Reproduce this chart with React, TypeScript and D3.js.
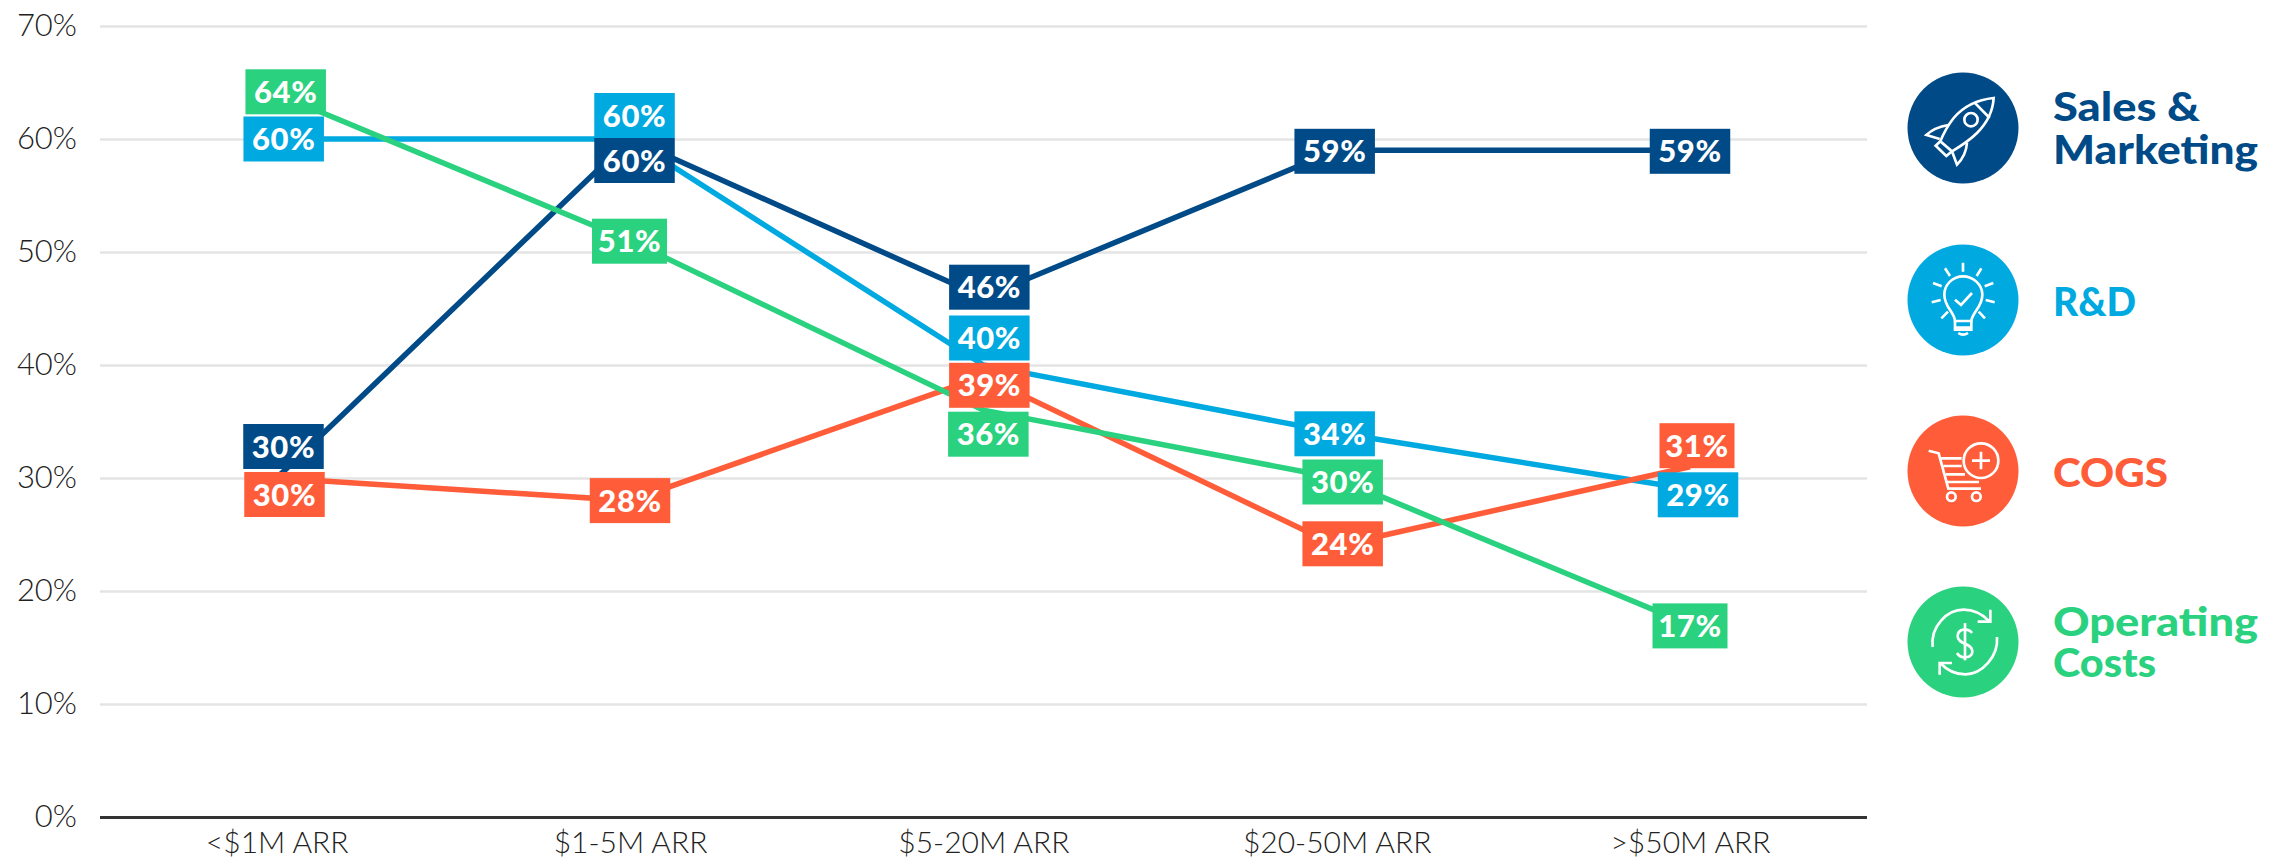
import React, { useEffect, useRef } from "react";
import * as d3 from "d3";

const categories = ["<$1M ARR", "$1-5M ARR", "$5-20M ARR", "$20-50M ARR", ">$50M ARR"];
const yTicks = [0, 10, 20, 30, 40, 50, 60, 70];

const salesMarketing = [30, 60, 46, 59, 59];
const rnd = [60, 60, 40, 34, 29];
const cogs = [30, 28, 39, 24, 31];
const operatingCosts = [64, 51, 36, 30, 17];

const NAVY = "#004b87";
const BLUE = "#00a9e0";
const RED = "#ff5c39";
const GREEN = "#2ad17e";

const WIDTH = 2292;
const HEIGHT = 859;

// label box offsets from each data point, in pixels (hand placed in the original)
const salesOffsets = [[6.8, -31.5], [4.5, 21.5], [6, -10], [-2, 1], [0, 1]];
const rndOffsets = [[7, 0], [4.5, -23.5], [6, -27], [-2, 1], [8, 5.5]];
const cogsOffsets = [[7.8, 16.5], [0, 0], [6, 9], [6, -2], [7, -21]];
const opexOffsets = [[9, -2], [-0.5, 0.5], [5, 24], [6, 4], [0, 1]];

const seriesList = [
  { name: "R&D", values: rnd, color: BLUE, offsets: rndOffsets },
  { name: "Sales & Marketing", values: salesMarketing, color: NAVY, offsets: salesOffsets },
  { name: "COGS", values: cogs, color: RED, offsets: cogsOffsets },
  { name: "Operating Costs", values: operatingCosts, color: GREEN, offsets: opexOffsets },
];
const labelOrder = ["Sales & Marketing", "Operating Costs", "R&D", "COGS"];

function Rocket() {
  return (
    <g>
      <path d="M400 145 C350 150 310 170 280 205 C262 228 250 250 240 275 L275 305 C300 290 325 275 350 250 C385 215 398 180 400 145 Z" />
      <path d="M342 158 L388 205" />
      <circle cx="332" cy="210" r="20" />
      <path d="M264 226 C240 230 215 240 198 256 L238 268" />
      <path d="M320 280 C318 305 305 330 290 345 L276 308" />
      <path d="M240 275 L226 288 L258 319 L275 305" />
    </g>
  );
}

function Bulb() {
  return (
    <g>
      <path d="M284 812 C282 785 252 770 252 733 C252 702 278 678 308 678 C338 678 366 702 366 733 C366 770 336 785 333 812 Z" />
      <path d="M284 812 L284 838 L333 838 L333 812 M284 832 L333 832" />
      <path d="M294 848 Q308 858 323 848" />
      <path d="M284 748 L302 764 L335 728" />
      <path d="M308 637 L308 664 M254 654 L269 677 M363 654 L349 677 M218 698 L244 708 M399 698 L373 708 M214 756 L241 749 M403 756 L376 749 M243 804 L263 784 M374 804 L355 784" />
    </g>
  );
}

function Cart() {
  return (
    <g>
      <path d="M205 212 L235 220 L264 326 L362 326" />
      <path d="M242 235 L304 235 M249 258 L304 258 M256 283 L314 283 M260 306 L356 306" />
      <circle cx="362" cy="242" r="52" />
      <path d="M362 215 L362 268 M335 242 L389 242" />
      <circle cx="273" cy="350" r="13" />
      <circle cx="348" cy="350" r="13" />
    </g>
  );
}

function Dollar() {
  return (
    <g>
      <path d="M217 802 C210 740 260 690 310 690 C340 690 365 702 387 725" />
      <path d="M390 690 L390 726 L352 726" />
      <path d="M410 772 C415 830 365 884 315 884 C285 884 260 872 240 850" />
      <path d="M238 885 L238 850 L275 850" />
      <path d="M335 760 C325 745 292 745 292 770 C292 795 336 790 336 815 C336 838 300 838 290 820" />
      <path d="M314 730 L314 842" />
    </g>
  );
}

const legendItems = [
  { lines: ["Sales &", "Marketing"], baselines: [121, 164], widths: [147, 205], color: NAVY, cy: 128, zx: 308, zy: 235, Icon: Rocket },
  { lines: ["R&D"], baselines: [316], widths: [83], color: BLUE, cy: 300, zx: 308, zy: 749, Icon: Bulb },
  { lines: ["COGS"], baselines: [487], widths: [115], color: RED, cy: 471, zx: 308, zy: 273, Icon: Cart },
  { lines: ["Operating", "Costs"], baselines: [636, 677], widths: [205, 103], color: GREEN, cy: 642, zx: 308, zy: 787, Icon: Dollar },
];

const x = d3.scalePoint<string>().domain(categories).range([276.7, 1690]);
const y = d3.scaleLinear().domain([0, 70]).range([817, 26]);
const line = d3
  .line<number>()
  .x((_, i) => x(categories[i]) as number)
  .y((d) => y(d));

const BOX_H = 45;
const boxWidth = (v: number) => (String(v).includes("1") ? 75 : 80.5);
const tickFont = "Lato, sans-serif";

export default function App() {
  const gridRef = useRef<SVGGElement>(null);
  const xRef = useRef<SVGGElement>(null);

  useEffect(() => {
    const axisY = d3
      .axisLeft(y)
      .tickValues(yTicks)
      .tickSize(-1767)
      .tickPadding(0)
      .tickFormat((d) => `${d}%`);
    const g = d3.select(gridRef.current as SVGGElement).call(axisY as any);
    g.select(".domain").remove();
    g.selectAll<SVGLineElement, number>(".tick line")
      .attr("stroke", (d) => (d === 0 ? "#333333" : "#e4e4e4"))
      .attr("stroke-width", (d) => (d === 0 ? 3 : 2.5));
    g.selectAll<SVGTextElement, number>(".tick text")
      .attr("x", -23)
      .attr("dy", "0.32em")
      .attr("fill", "#222222")
      .attr("font-family", tickFont)
      .attr("font-weight", 300)
      .attr("font-size", 31)
      .attr("text-anchor", "end");

    const axisX = d3.axisBottom(x).tickSize(0).tickPadding(0);
    const gx = d3.select(xRef.current as SVGGElement).call(axisX as any);
    gx.select(".domain").remove();
    gx.selectAll(".tick text")
      .attr("y", 36)
      .attr("dy", 0)
      .attr("fill", "#222222")
      .attr("font-family", tickFont)
      .attr("font-weight", 300)
      .attr("font-size", 30);
  }, []);

  return (
    <svg
      width={WIDTH}
      height={HEIGHT}
      viewBox={`0 0 ${WIDTH} ${HEIGHT}`}
      style={{ position: "absolute", left: 0, top: 0, display: "block", background: "#fff" }}
    >
      <g ref={gridRef} transform="translate(100,0)" />
      <g ref={xRef} transform="translate(0,817)" />

      {seriesList.map((s) => (
        <path key={s.name} d={line(s.values) as string} fill="none" stroke={s.color} strokeWidth={5.5} />
      ))}

      {labelOrder.map((name) => {
        const s = seriesList.find((e) => e.name === name)!;
        return (
          <g key={name}>
            {s.values.map((v, i) => {
              const cx = (x(categories[i]) as number) + s.offsets[i][0];
              const cy = y(v) + s.offsets[i][1];
              const w = boxWidth(v);
              return (
                <g key={i}>
                  <rect x={cx - w / 2} y={cy - BOX_H / 2} width={w} height={BOX_H} fill={s.color} />
                  <text
                    x={cx}
                    y={cy + 11}
                    textAnchor="middle"
                    fill="#ffffff"
                    fontFamily="Lato, sans-serif"
                    fontWeight={900}
                    fontSize={31}
                    letterSpacing={0.6}
                  >
                    {v}%
                  </text>
                </g>
              );
            })}
          </g>
        );
      })}

      {legendItems.map((item) => (
        <g key={item.lines[0]}>
          <circle cx={1963} cy={item.cy} r={55.5} fill={item.color} />
          <g
            transform={`translate(1963,${item.cy}) scale(${1 / 3}) translate(${-item.zx},${-item.zy})`}
            fill="none"
            stroke="#ffffff"
            strokeWidth={8}
          >
            <item.Icon />
          </g>
          {item.lines.map((t, i) => (
            <text
              key={t}
              x={2053}
              y={item.baselines[i]}
              fill={item.color}
              fontFamily="Lato, sans-serif"
              fontWeight={900}
              fontSize={39}
              textLength={item.widths[i]}
              lengthAdjust="spacingAndGlyphs"
            >
              {t}
            </text>
          ))}
        </g>
      ))}
    </svg>
  );
}
